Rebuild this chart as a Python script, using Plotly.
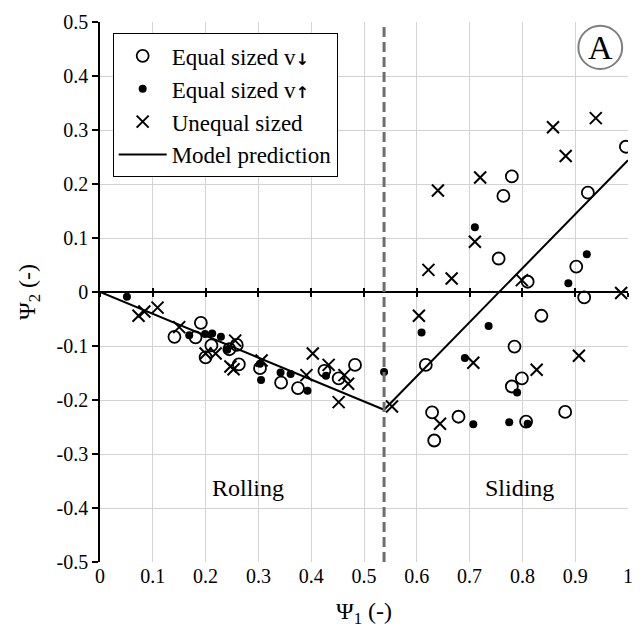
import plotly.graph_objects as go

# ---- data ----
open_x = [0.141, 0.181, 0.191, 0.211, 0.200, 0.245, 0.259, 0.263, 0.303, 0.343, 0.375, 0.425, 0.452, 0.483,
          0.780, 0.764, 0.996, 0.924, 0.755, 0.902, 0.810, 0.917, 0.836, 0.785, 0.617, 0.799, 0.780,
          0.629, 0.679, 0.633, 0.807, 0.881]
open_y = [-0.083, -0.084, -0.057, -0.099, -0.121, -0.106, -0.098, -0.134, -0.141, -0.168, -0.178, -0.146, -0.160, -0.135,
          0.214, 0.178, 0.269, 0.184, 0.062, 0.047, 0.019, -0.010, -0.044, -0.101, -0.135, -0.160, -0.175,
          -0.223, -0.231, -0.275, -0.240, -0.222]

dot_x = [0.051, 0.169, 0.199, 0.2125, 0.229, 0.241, 0.303, 0.305, 0.342, 0.361, 0.393, 0.428, 0.538,
         0.710, 0.922, 0.887, 0.609, 0.736, 0.691, 0.790, 0.707, 0.775, 0.810]
dot_y = [-0.009, -0.080, -0.078, -0.077, -0.083, -0.107, -0.133, -0.163, -0.149, -0.152, -0.183, -0.155, -0.148,
         0.120, 0.070, 0.016, -0.075, -0.063, -0.122, -0.186, -0.245, -0.241, -0.244]

cross_x = [0.073, 0.084, 0.109, 0.150, 0.200, 0.219, 0.247, 0.253, 0.256, 0.306, 0.391, 0.403, 0.433, 0.452,
           0.463, 0.470, 0.553, 0.640, 0.720, 0.858, 0.939, 0.882, 0.710, 0.622, 0.666, 0.799, 0.987,
           0.604, 0.707, 0.827, 0.907, 0.644]
cross_y = [-0.044, -0.036, -0.029, -0.065, -0.114, -0.114, -0.138, -0.143, -0.090, -0.127, -0.154, -0.114, -0.135, -0.204,
           -0.154, -0.170, -0.212, 0.188, 0.212, 0.305, 0.322, 0.252, 0.093, 0.041, 0.025, 0.022, -0.002,
           -0.044, -0.131, -0.144, -0.118, -0.244]

model_x = [0.0, 0.538, 1.0]
model_y = [0.0, -0.218, 0.244]

boundary_x = 0.538

x_ticks = [0, 0.1, 0.2, 0.3, 0.4, 0.5, 0.6, 0.7, 0.8, 0.9, 1]
x_labels = ["0", "0.1", "0.2", "0.3", "0.4", "0.5", "0.6", "0.7", "0.8", "0.9", "1"]
y_ticks = [-0.5, -0.4, -0.3, -0.2, -0.1, 0, 0.1, 0.2, 0.3, 0.4, 0.5]
y_labels = ["-0.5", "-0.4", "-0.3", "-0.2", "-0.1", "0", "0.1", "0.2", "0.3", "0.4", "0.5"]

FONT = "Liberation Serif"
ARROW = "<span style='font-family:DejaVu Sans;font-size:16px;font-weight:bold'>{}</span>"

fig = go.Figure()

fig.add_trace(go.Scatter(x=open_x, y=open_y, mode="markers", name="Equal sized v" + ARROW.format("\u2193"),
                         marker=dict(symbol="circle-open", size=12, color="black", line=dict(width=1.8, color="black"))))
fig.add_trace(go.Scatter(x=dot_x, y=dot_y, mode="markers", name="Equal sized v" + ARROW.format("\u2191"),
                         marker=dict(symbol="circle", size=8, color="black")))
fig.add_trace(go.Scatter(x=cross_x, y=cross_y, mode="markers", name="Unequal sized",
                         marker=dict(symbol="x-thin-open", size=12, color="black", line=dict(width=2, color="black"))))
fig.add_trace(go.Scatter(x=model_x, y=model_y, mode="lines", name="Model prediction",
                         line=dict(color="black", width=2)))

# regime boundary
fig.add_shape(type="line", xref="x", yref="paper", x0=boundary_x, x1=boundary_x, y0=0, y1=1,
              line=dict(color="#6e6e6e", width=3, dash="10px,5px"), layer="above")

# circled panel letter
fig.add_shape(type="circle", xref="x", yref="y", x0=0.906, x1=0.989, y0=0.413, y1=0.493,
              line=dict(color="#808080", width=2))
fig.add_annotation(x=0.9475, y=0.453, xref="x", yref="y", text="A", showarrow=False,
                   font=dict(family=FONT, size=34, color="black"))

fig.add_annotation(x=0.28, y=-0.363, xref="x", yref="y", text="Rolling", showarrow=False,
                   font=dict(family=FONT, size=24, color="black"))
fig.add_annotation(x=0.795, y=-0.363, xref="x", yref="y", text="Sliding", showarrow=False,
                   font=dict(family=FONT, size=24, color="black"))

grid = "#d3d3d3"
fig.update_layout(
    width=643, height=631,
    margin=dict(l=100, r=10, t=22, b=69),
    paper_bgcolor="white", plot_bgcolor="white",
    font=dict(family=FONT, size=20, color="black"),
    showlegend=True,
    legend=dict(x=0.024, y=0.979, xanchor="left", yanchor="top",
                bgcolor="white", bordercolor="black", borderwidth=1,
                font=dict(family=FONT, size=23, color="black"),
                tracegroupgap=0, itemwidth=48),
    xaxis=dict(range=[0, 1], tickvals=x_ticks, ticktext=x_labels, showgrid=True, gridcolor=grid, gridwidth=1,
               zeroline=False, showline=False, ticks="", tickfont=dict(family=FONT, size=20),
               title=dict(text="\u03a8<sub>1</sub> (-)", font=dict(family=FONT, size=24), standoff=16)),
    yaxis=dict(range=[-0.5, 0.5], tickvals=y_ticks, ticktext=y_labels, showgrid=True, gridcolor=grid, gridwidth=1,
               zeroline=False, showline=True, linecolor="black", linewidth=1.5,
               ticks="outside", ticklen=6, tickcolor="black", tickwidth=1.5, tickfont=dict(family=FONT, size=20),
               title=dict(text="\u03a8<sub>2</sub> (-)", font=dict(family=FONT, size=24), standoff=14)),
    xaxis2=dict(overlaying="x", anchor="free", position=0.5, range=[0, 1], tickvals=x_ticks,
                showticklabels=False, showgrid=False, zeroline=False, showline=True, linecolor="black",
                linewidth=1.5, ticks="outside", ticklen=4, tickcolor="black", tickwidth=1.5, side="bottom"),
    xaxis3=dict(overlaying="x", anchor="free", position=0.5, range=[0, 1], tickvals=x_ticks,
                showticklabels=False, showgrid=False, zeroline=False, showline=False,
                ticks="inside", ticklen=4, tickcolor="black", tickwidth=1.5, side="bottom"),
)

# invisible traces to activate the zero-line axes
fig.add_trace(go.Scatter(x=[0, 1], y=[0, 0], xaxis="x2", mode="markers", marker=dict(opacity=0),
                         showlegend=False, hoverinfo="skip"))
fig.add_trace(go.Scatter(x=[0, 1], y=[0, 0], xaxis="x3", mode="markers", marker=dict(opacity=0),
                         showlegend=False, hoverinfo="skip"))

fig.write_html("out.html")
